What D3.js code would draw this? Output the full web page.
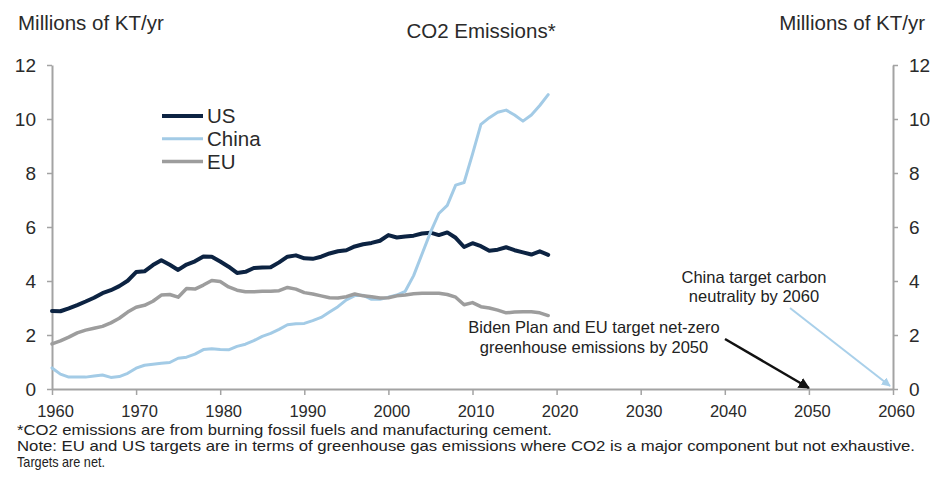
<!DOCTYPE html>
<html>
<head>
<meta charset="utf-8">
<script src="https://cdn.jsdelivr.net/npm/d3@7"></script>
<style>
  html, body { margin: 0; padding: 0; background: #fff; }
  svg { display: block; font-family: "Liberation Sans", Arial, sans-serif; }
</style>
</head>
<body>
<svg id="chart" width="936" height="477"></svg>
<script>
// Annual CO2 emissions, millions of kilotonnes per year
const years = d3.range(1960, 2020);
const usValues = [
  2.89, 2.88, 2.99, 3.11, 3.24, 3.38, 3.55, 3.66, 3.81, 4.01,
  4.33, 4.36, 4.59, 4.77, 4.60, 4.41, 4.61, 4.73, 4.91, 4.90,
  4.72, 4.53, 4.30, 4.34, 4.48, 4.50, 4.51, 4.69, 4.90, 4.95,
  4.84, 4.82, 4.90, 5.02, 5.10, 5.14, 5.28, 5.36, 5.41, 5.49,
  5.70, 5.61, 5.65, 5.68, 5.76, 5.79, 5.70, 5.80, 5.60, 5.26,
  5.40, 5.29, 5.12, 5.16, 5.25, 5.14, 5.06, 4.98, 5.10, 4.97
];
const chinaValues = [
  0.78, 0.55, 0.44, 0.44, 0.44, 0.48, 0.52, 0.43, 0.46, 0.58,
  0.77, 0.88, 0.92, 0.95, 0.98, 1.14, 1.18, 1.29, 1.46, 1.49,
  1.46, 1.45, 1.58, 1.66, 1.79, 1.95, 2.06, 2.21, 2.38, 2.42,
  2.43, 2.53, 2.65, 2.85, 3.05, 3.30, 3.46, 3.47, 3.32, 3.32,
  3.40, 3.48, 3.62, 4.20, 5.00, 5.80, 6.50, 6.80, 7.55, 7.65,
  8.70, 9.80, 10.05, 10.25, 10.33, 10.15, 9.92, 10.15, 10.50, 10.90
];
const euValues = [
  1.67, 1.78, 1.92, 2.08, 2.18, 2.25, 2.32, 2.45, 2.62, 2.85,
  3.03, 3.10, 3.25, 3.48, 3.50, 3.40, 3.72, 3.70, 3.85, 4.02,
  3.98, 3.78, 3.66, 3.60, 3.60, 3.62, 3.62, 3.64, 3.76, 3.70,
  3.57, 3.52, 3.45, 3.38, 3.37, 3.42, 3.52, 3.45, 3.42, 3.37,
  3.38, 3.45, 3.48, 3.53, 3.55, 3.55, 3.55, 3.50, 3.40, 3.12,
  3.20, 3.05, 3.00, 2.92, 2.82, 2.85, 2.86, 2.86, 2.82, 2.72
];
const seriesNames = ["US", "China", "EU"];
const seriesColors = ["#0c2342", "#a3cbe6", "#9d9d9d"];
const xTicks = [1960, 1970, 1980, 1990, 2000, 2010, 2020, 2030, 2040, 2050, 2060];
const yTicks = [0, 2, 4, 6, 8, 10, 12];
const targets = [
  { year: 2050, value: 0, lines: ["Biden Plan and EU target net-zero", "greenhouse emissions by 2050"] },
  { year: 2060, value: 0, lines: ["China target carbon", "neutrality by 2060"] }
];
const footnotes = [
  "*CO2 emissions are from burning fossil fuels and manufacturing cement.",
  "Note: EU and US targets are in terms of greenhouse gas emissions where CO2 is a major component but not exhaustive.",
  "Targets are net."
];

const svg = d3.select("#chart");
const plotLeft = 52, plotRight = 893, plotTop = 65, plotBottom = 389;
const axisColor = "#a3a3a3";
const textColor = "#2a2a2a";

const x = d3.scaleLinear().domain([1960, 2060]).range([plotLeft, plotRight]);
const y = d3.scaleLinear().domain([0, 12]).range([plotBottom, plotTop]);

// Axes
function styleAxis(g) {
  g.selectAll(".domain").attr("stroke", axisColor).attr("stroke-width", 2);
  g.selectAll(".tick line").attr("stroke", axisColor).attr("stroke-width", 1.5);
  g.selectAll(".tick text").attr("fill", textColor)
    .style("font-family", "'Liberation Sans', Arial, sans-serif");
}

svg.append("g")
  .attr("transform", `translate(0,${plotBottom})`)
  .call(d3.axisBottom(x).tickValues(xTicks).tickFormat(d3.format("d")).tickSizeInner(6).tickSizeOuter(0).tickPadding(10))
  .call(styleAxis)
  .call(g => g.selectAll(".tick text").style("font-size", "16.5px").attr("dx", 3));

svg.append("g")
  .attr("transform", `translate(${plotLeft},0)`)
  .call(d3.axisLeft(y).tickValues(yTicks).tickSizeInner(5).tickSizeOuter(0).tickPadding(11))
  .call(styleAxis)
  .call(g => g.selectAll(".tick text").style("font-size", "19px"));

svg.append("g")
  .attr("transform", `translate(${plotRight},0)`)
  .call(d3.axisRight(y).tickValues(yTicks).tickSizeInner(5).tickSizeOuter(0).tickPadding(11))
  .call(styleAxis)
  .call(g => g.selectAll(".tick text").style("font-size", "19px"));

// Titles
svg.append("text").attr("x", 18).attr("y", 30)
  .attr("fill", textColor).style("font-size", "20.5px").text("Millions of KT/yr");
svg.append("text").attr("x", 925).attr("y", 30).attr("text-anchor", "end")
  .attr("fill", textColor).style("font-size", "20.5px").text("Millions of KT/yr");
svg.append("text").attr("x", 481).attr("y", 38).attr("text-anchor", "middle")
  .attr("fill", textColor).style("font-size", "20.5px").text("CO2 Emissions*");

// Series lines: US first, then China, EU on top
const line = d3.line().x((d, i) => x(years[i])).y(d => y(d));
const seriesData = [usValues, chinaValues, euValues];
const widths = [4, 3, 3.5];
seriesData.forEach((vals, k) => {
  svg.append("path")
    .datum(vals)
    .attr("fill", "none")
    .attr("stroke", seriesColors[k])
    .attr("stroke-width", widths[k])
    .attr("stroke-linejoin", "round")
    .attr("stroke-linecap", "round")
    .attr("d", line);
});

// Legend
const legend = svg.append("g").attr("transform", "translate(162,116)");
seriesNames.forEach((name, k) => {
  const row = legend.append("g").attr("transform", `translate(0,${k * 22.8})`);
  row.append("line").attr("x1", 0).attr("x2", 41).attr("y1", 0).attr("y2", 0)
    .attr("stroke", seriesColors[k]).attr("stroke-width", widths[k]);
  row.append("text").attr("x", 45).attr("y", 7)
    .attr("fill", textColor).style("font-size", "20.5px").text(name);
});

// Target annotations with arrows
const defs = svg.append("defs");
function marker(id, color) {
  defs.append("marker")
    .attr("id", id).attr("viewBox", "0 0 10 10")
    .attr("refX", 9).attr("refY", 5)
    .attr("markerWidth", 4.5).attr("markerHeight", 4.5)
    .attr("orient", "auto-start-reverse")
    .append("path").attr("d", "M0,0 L10,5 L0,10 Z").attr("fill", color);
}
marker("arrowDark", "#111");
marker("arrowLight", "#a9d0ea");

const usTarget = targets[0];
usTarget.lines.forEach((t, i) => {
  svg.append("text").attr("x", 594).attr("y", 333 + i * 20)
    .attr("text-anchor", "middle").attr("fill", "#222")
    .style("font-size", "16.5px").text(t);
});
svg.append("line")
  .attr("x1", 725).attr("y1", 339)
  .attr("x2", x(usTarget.year)).attr("y2", y(usTarget.value) - 1)
  .attr("stroke", "#111").attr("stroke-width", 2.5)
  .attr("marker-end", "url(#arrowDark)");

const cnTarget = targets[1];
cnTarget.lines.forEach((t, i) => {
  svg.append("text").attr("x", 754).attr("y", 283 + i * 19)
    .attr("text-anchor", "middle").attr("fill", "#222")
    .style("font-size", "16.5px").text(t);
});
svg.append("line")
  .attr("x1", 790).attr("y1", 308)
  .attr("x2", x(cnTarget.year) - 3).attr("y2", y(cnTarget.value) - 3)
  .attr("stroke", "#a9d0ea").attr("stroke-width", 2)
  .attr("marker-end", "url(#arrowLight)");

// Footnotes
const footWidths = [535, 898, 88];
footnotes.forEach((t, i) => {
  svg.append("text").attr("x", 17).attr("y", 435 + i * 16)
    .attr("fill", "#222").style("font-size", "14.5px")
    .attr("textLength", footWidths[i]).attr("lengthAdjust", "spacingAndGlyphs")
    .text(t);
});
</script>
</body>
</html>
